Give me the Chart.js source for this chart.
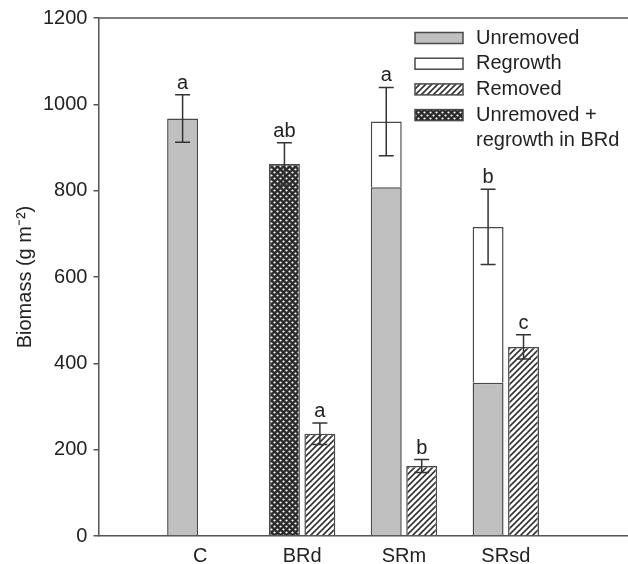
<!DOCTYPE html>
<html><head><meta charset="utf-8">
<script src="https://cdn.jsdelivr.net/npm/chart.js@4.4.1/dist/chart.umd.min.js"></script>
<style>html,body{margin:0;padding:0;background:#fff}</style>
</head><body>
<canvas id="chart" width="628" height="564"></canvas>
<script>
// values (g m-2)
const categories=['C','BRd','SRm','SRsd'];
const unremoved=[967,null,808,355];
const regrowth=[null,null,152,361];
const removed=[null,237,162,438];
const unremovedRegrowthBRd=[null,862,null,null];
const errStanding=[55,49,79,87];
const errRemoved=[null,25,15,28];
const lettersStanding=['a','ab','a','b'];
const lettersRemoved=[null,'a','b','c'];

const FONT='"Liberation Sans", Arial, sans-serif';
Chart.defaults.font.family=FONT;
Chart.defaults.font.size=20;
Chart.defaults.color='#222';

function hatch(){
 const c=document.createElement('canvas'); c.width=c.height=6;
 const g=c.getContext('2d'); g.fillStyle='#fff'; g.fillRect(0,0,6,6);
 g.strokeStyle='#333'; g.lineWidth=1.6; g.beginPath();
 g.moveTo(0,6); g.lineTo(6,0); g.moveTo(-1,1); g.lineTo(1,-1); g.moveTo(5,7); g.lineTo(7,5);
 g.stroke(); return g.createPattern(c,'repeat');
}
function dots(){
 const c=document.createElement('canvas'); c.width=c.height=6;
 const g=c.getContext('2d'); g.fillStyle='#2a2a2a'; g.fillRect(0,0,6,6);
 g.fillStyle='#fff';
 [[1.5,1.5],[4.5,4.5]].forEach(p=>{g.beginPath(); g.arc(p[0],p[1],1.1,0,Math.PI*2); g.fill();});
 return g.createPattern(c,'repeat');
}
const toXY=arr=>arr.map((v,i)=>({x:i+1,y:v}));

const annotate={id:'annotate', afterDatasetsDraw(chart){
 const {ctx,chartArea:a,scales:{y}}=chart;
 const ds=chart.data.datasets;
 ctx.save();
 ctx.strokeStyle='#555'; ctx.lineWidth=1.5;
 ctx.beginPath(); ctx.moveTo(a.left,a.top); ctx.lineTo(a.right,a.top); ctx.stroke();
 const drawErr=(x,val,err,letter)=>{
  const yt=y.getPixelForValue(val+err), yb=y.getPixelForValue(val-err);
  ctx.strokeStyle='#333'; ctx.lineWidth=1.5; ctx.beginPath();
  ctx.moveTo(x,yt); ctx.lineTo(x,yb);
  ctx.moveTo(x-7.5,yt); ctx.lineTo(x+7.5,yt);
  ctx.moveTo(x-7.5,yb); ctx.lineTo(x+7.5,yb); ctx.stroke();
  ctx.fillStyle='#222'; ctx.font='20px '+FONT; ctx.textAlign='center'; ctx.textBaseline='alphabetic';
  ctx.fillText(letter,x,yt-6);
 };
 categories.forEach((c,i)=>{
  const stand=[0,1,3].filter(d=>ds[d].data[i].y!=null);
  if(stand.length){
   const total=stand.reduce((s,d)=>s+ds[d].data[i].y,0);
   drawErr(chart.getDatasetMeta(stand[0]).data[i].x,total,errStanding[i],lettersStanding[i]);
  }
  if(removed[i]!=null) drawErr(chart.getDatasetMeta(2).data[i].x,removed[i],errRemoved[i],lettersRemoved[i]);
 });
 // legend
 const lx=a.right-213, bw=48, bh=11, tx=a.right-152, step=25.7;
 let row=0;
 ds.forEach(d=>{
  const lines=d.label.split('\n'); const cy=a.top+20+row*step;
  ctx.fillStyle=d.backgroundColor; ctx.fillRect(lx,cy-bh/2,bw,bh);
  ctx.strokeStyle='#4a4a4a'; ctx.lineWidth=1.5; ctx.strokeRect(lx,cy-bh/2,bw,bh);
  ctx.fillStyle='#222'; ctx.font='20px '+FONT; ctx.textAlign='left'; ctx.textBaseline='middle';
  lines.forEach((l,k)=>ctx.fillText(l,tx,cy+k*step));
  row+=lines.length;
 });
 ctx.restore();
}};

new Chart(document.getElementById('chart'),{
 type:'bar',
 data:{datasets:[
  {label:'Unremoved',data:toXY(unremoved),stack:'a',backgroundColor:'#c0c0c0'},
  {label:'Regrowth',data:toXY(regrowth),stack:'a',backgroundColor:'#ffffff'},
  {label:'Removed',data:toXY(removed),stack:'b',backgroundColor:hatch()},
  {label:'Unremoved +\nregrowth in BRd',data:toXY(unremovedRegrowthBRd),stack:'a',backgroundColor:dots()}
 ]},
 options:{
  responsive:false, animation:false,
  layout:{padding:{left:13,top:18,right:0,bottom:-12}},
  datasets:{bar:{borderColor:'#4a4a4a',borderWidth:1.5,categoryPercentage:0.696,barPercentage:0.873}},
  plugins:{legend:{display:false},tooltip:{enabled:false}},
  scales:{
   x:{type:'linear',min:0,max:5.2,offset:false,
    afterBuildTicks:s=>{s.ticks=categories.map((c,i)=>({value:i+1}));},
    ticks:{callback:v=>categories[v-1],padding:8,maxRotation:0,autoSkip:false},
    grid:{display:false,drawTicks:false},
    border:{display:true,color:'#555',width:1.5}},
   y:{min:0,max:1200,stacked:true,
    ticks:{stepSize:200,padding:6,callback:v=>String(v)},
    grid:{display:true,drawOnChartArea:false,drawTicks:true,tickLength:5,color:'#555',lineWidth:1.5},
    border:{display:true,color:'#555',width:1.5},
    title:{display:true,text:'Biomass (g m\u207B\u00B2)',padding:{top:0,bottom:0}}}
  }
 },
 plugins:[annotate]
});
</script>
</body></html>
